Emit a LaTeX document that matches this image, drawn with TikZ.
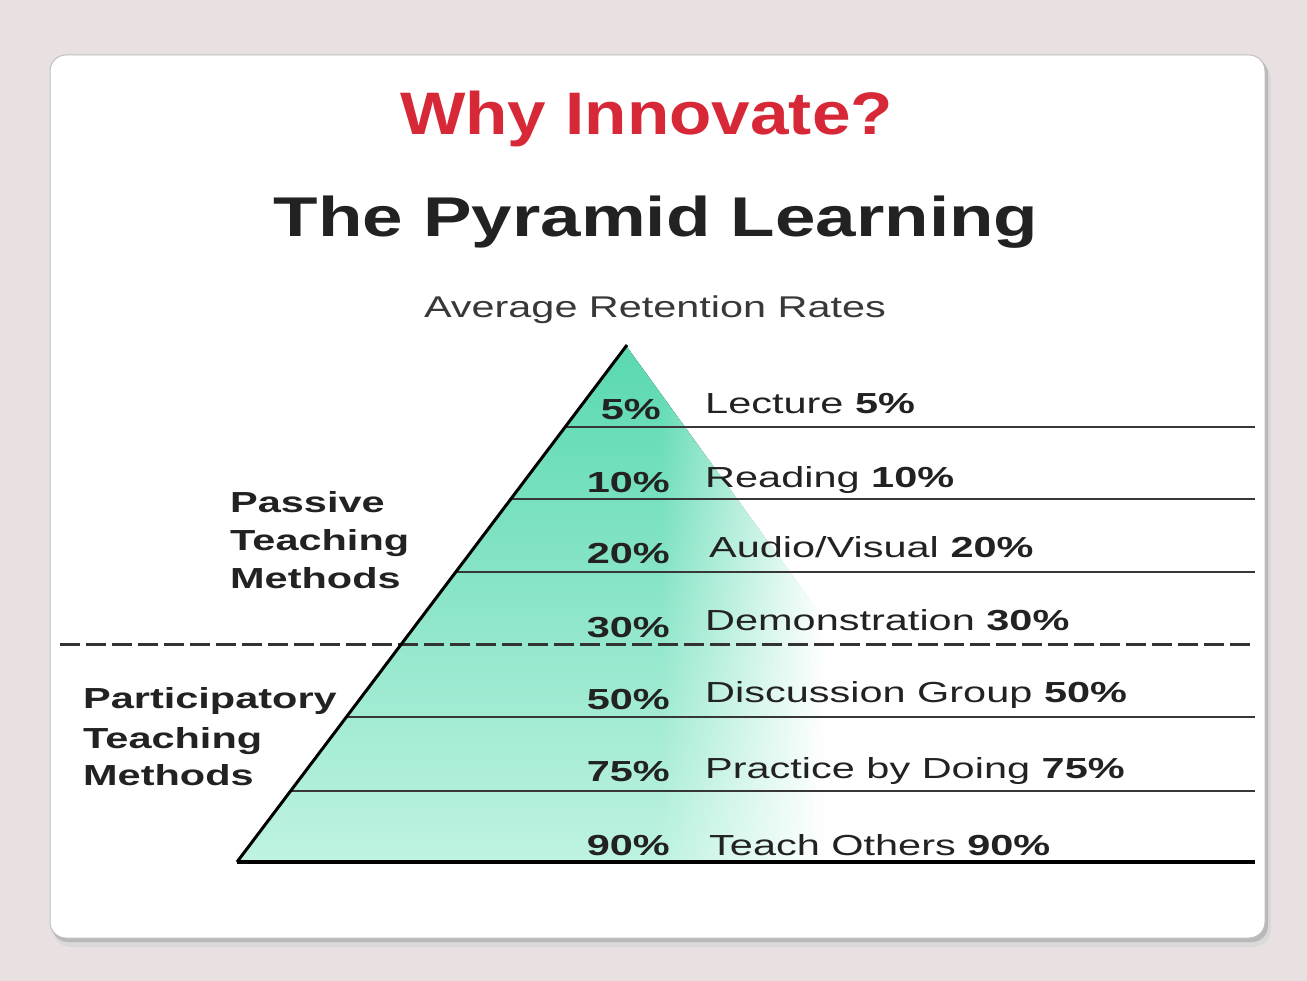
\documentclass[tikz,border=0pt]{standalone}
\usepackage{fontspec}
\setmainfont{Liberation Sans}
\newfontfamily\titlefont[FakeStretch=1.155]{Liberation Sans}
\newfontfamily\subtitlefont[FakeStretch=1.3]{Liberation Sans}
\newfontfamily\avgfont[FakeStretch=1.38]{Liberation Sans}
\newfontfamily\bodyfont[FakeStretch=1.43]{Liberation Sans}
\usetikzlibrary{fadings}
\definecolor{bgc}{RGB}{233,225,225}
\definecolor{ttlred}{RGB}{215,40,55}
\definecolor{ink}{RGB}{34,34,34}
\definecolor{pyrTop}{RGB}{88,216,176}
\definecolor{pyrBot}{RGB}{192,243,226}
\definecolor{rulec}{RGB}{55,55,55}
\tikzfading[name=fadeR, left color=transparent!100, right color=transparent!0]
\begin{document}
\begin{tikzpicture}[x=1pt,y=-1pt,
  lbl/.style={inner sep=0pt, anchor=base west, text=ink, font=\bodyfont\fontsize{29}{34}\selectfont},
  pct/.style={inner sep=0pt, anchor=base east, text=ink, font=\bodyfont\bfseries\fontsize{29}{34}\selectfont},
  side/.style={inner sep=0pt, anchor=base west, text=ink, font=\bodyfont\bfseries\fontsize{29}{34}\selectfont},
  rowline/.style={draw=rulec, line width=2.4pt},
]
\useasboundingbox (0,0) rectangle (1307,981);
\fill[bgc] (0,0) rectangle (1307,981);
% card with shadow
\fill[gray!30, rounded corners=18] (53,61) rectangle (1271,947);
\fill[gray!55, rounded corners=16] (52,58) rectangle (1268,942);
\draw[gray!50, line width=1pt, fill=white, rounded corners=16] (50,55) rectangle (1265,938);
% pyramid fill
\begin{scope}
  \clip (627,347) -- (237,862) -- (1000,862) -- cycle;
  \fill[top color=pyrTop, bottom color=pyrBot] (230,340) rectangle (1010,866);
\end{scope}
\fill[white, path fading=fadeR] (660,340) rectangle (825,866);
\fill[white] (824,340) rectangle (1010,866);
% row lines
\draw[rowline] (565.1,427) -- (1255,427);
\draw[rowline] (510.8,499) -- (1255,499);
\draw[rowline] (455.8,572) -- (1255,572);
\draw[draw=black!80, line width=3pt, dash pattern=on 20pt off 6pt] (60,644) -- (1252,644);
\draw[rowline] (346.4,717) -- (1255,717);
\draw[rowline] (290.5,791) -- (1255,791);
\draw[black, line width=3.5pt] (237,862) -- (1255,862);
% pyramid left edge
\draw[black, line width=3pt] (627,345) -- (237,862);
% titles
\node[inner sep=0pt, anchor=base, text=ttlred, font=\titlefont\bfseries\fontsize{60}{70}\selectfont] (t1) at (646.5,135) {Why Innovate?};
\node[inner sep=0pt, anchor=base, text=ink, font=\subtitlefont\bfseries\fontsize{56}{66}\selectfont] (t2) at (656,237) {The Pyramid Learning};
\node[inner sep=0pt, anchor=base, text=ink!90, font=\avgfont\fontsize{30}{36}\selectfont] (t3) at (655,318) {Average Retention Rates};
% percentages
\node[pct] (p1) at (661,420) {5\%};
\node[pct] (p2) at (670,493) {10\%};
\node[pct] (p3) at (670,563) {20\%};
\node[pct] (p4) at (670,637) {30\%};
\node[pct] (p5) at (670,709) {50\%};
\node[pct] (p6) at (670,781) {75\%};
\node[pct] (p7) at (670,855) {90\%};
% labels
\node[lbl] (l1) at (705,414) {Lecture \textbf{5\%}};
\node[lbl] (l2) at (705,487) {Reading \textbf{10\%}};
\node[lbl] (l3) at (709,557) {Audio/Visual \textbf{20\%}};
\node[lbl] (l4) at (705,630) {Demonstration \textbf{30\%}};
\node[lbl] (l5) at (705,702) {Discussion Group \textbf{50\%}};
\node[lbl] (l6) at (705,778) {Practice by Doing \textbf{75\%}};
\node[lbl] (l7) at (709,855) {Teach Others \textbf{90\%}};
% side labels
\node[side] (s1) at (230,512) {Passive};
\node[side] (s2) at (230,550) {Teaching};
\node[side] (s3) at (230,588) {Methods};
\node[side] (s4) at (83,708) {Participatory};
\node[side] (s5) at (83,748) {Teaching};
\node[side] (s6) at (83,785) {Methods};
\end{tikzpicture}
\end{document}
